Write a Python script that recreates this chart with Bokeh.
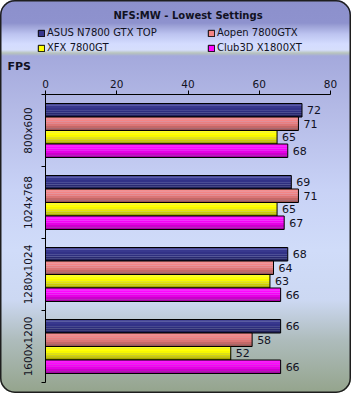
from bokeh.plotting import figure
from bokeh.models import (Range1d, FixedTicker, Label, Legend, LegendItem,
                          ColumnDataSource)
from bokeh.embed import file_html
from bokeh.resources import INLINE
from bokeh.core.properties import value

# ---------------- data ----------------
title_text = "NFS:MW - Lowest Settings"
axis_title = "FPS"
resolutions = ["800x600", "1024x768", "1280x1024", "1600x1200"]
series_names = ["ASUS N7800 GTX TOP", "Aopen 7800GTX", "XFX 7800GT", "Club3D X1800XT"]
asus = [72, 69, 68, 66]
aopen = [71, 71, 64, 58]
xfx = [65, 65, 63, 52]
club3d = [68, 67, 66, 66]
x_ticks = [0, 20, 40, 60, 80]
series_values = [asus, aopen, xfx, club3d]

# ---------------- layout / style ----------------
W, H = 351, 393
AX_L, AX_R, AX_T, AX_B = 45, 330, 94, 382     # plot box in canvas pixels
X_MIN, X_MAX = 0, 80
NG = len(resolutions)
px_x = (AX_R - AX_L) / (X_MAX - X_MIN)
px_y = (AX_B - AX_T) / NG
x_lo = X_MIN - AX_L / px_x
x_hi = X_MAX + (W - AX_R) / px_x
y_top = -AX_T / px_y
y_bot = NG + (H - AX_B) / px_y

colors = ["#34348C", "#F48282", "#FFFF00", "#FF00FF"]
FONT = "DejaVu Sans"
TXT = "#111122"
BAR_H = 0.1875
GROUP_PAD = 0.125
SHADES = [1.1, 1.02, 0.97, 0.9, 0.8, 0.66]


def shade(hexcol, f):
    r, g, b = int(hexcol[1:3], 16), int(hexcol[3:5], 16), int(hexcol[5:7], 16)
    if f >= 1:
        t = f - 1
        r, g, b = [int(c + (255 - c) * t) for c in (r, g, b)]
    else:
        r, g, b = [int(c * f) for c in (r, g, b)]
    return "#%02x%02x%02x" % (r, g, b)


p = figure(width=W, height=H, output_backend="svg", toolbar_location=None,
           x_range=Range1d(x_lo, x_hi), y_range=Range1d(y_bot, y_top),
           x_axis_location="above",
           min_border_left=0, min_border_right=0,
           min_border_top=0, min_border_bottom=0)
p.background_fill_color = None
p.border_fill_color = None
p.outline_line_color = None
p.grid.visible = False
p.styles = {
    "background": ("linear-gradient(to bottom, #8C90CC 0px, #8E92CE 23px, "
                   "#9CA1D6 26px, #BCC3F0 34px, #D4DCFF 44px, #D6DEFC 50px, "
                   "#B8C4BC 53px, #A4A9DC 56px, #B4BAE6 110px, #C8D2F6 190px, "
                   "#D0DCF9 250px, #CCD8F2 300px, #AEBCBC 340px, #94A48C 393px)"),
    "border-radius": "15px",
    "box-shadow": "inset 0 0 0 1.5px #1e1e1e",
}

# top axis (drawn at the top of the bar area)
xax = p.xaxis[0]
xax.fixed_location = 0
xax.bounds = (X_MIN, X_MAX)
xax.ticker = FixedTicker(ticks=x_ticks)
xax.major_tick_out = 4
xax.major_tick_in = 0
xax.minor_tick_line_color = None
xax.axis_line_color = "#000000"
xax.major_tick_line_color = "#000000"
xax.major_label_standoff = 3
xax.major_label_text_font = FONT
xax.major_label_text_font_size = "10.5px"
xax.major_label_text_color = TXT

# left axis
yax = p.yaxis[0]
yax.fixed_location = X_MIN
yax.bounds = (0, NG)
yax.ticker = FixedTicker(ticks=[i + 0.5 for i in range(NG)],
                         minor_ticks=list(range(NG + 1)))
yax.major_label_overrides = {i + 0.5: r for i, r in enumerate(resolutions)}
yax.major_label_orientation = "vertical"
yax.major_tick_out = 0
yax.major_tick_in = 0
yax.minor_tick_out = 4
yax.minor_tick_in = 0
yax.minor_tick_line_color = "#000000"
yax.axis_line_color = "#000000"
yax.major_label_standoff = 8
yax.major_label_text_font = FONT
yax.major_label_text_font_size = "10.5px"
yax.major_label_text_color = TXT

legend_items = []
for j, (name, vals, col) in enumerate(zip(series_names, series_values, colors)):
    yc = [i + GROUP_PAD + BAR_H * (j + 0.5) for i in range(NG)]
    n = len(SHADES)
    sh = BAR_H / n
    fill_r = None
    for k, f in enumerate(SHADES):
        ys = [y - BAR_H / 2 + sh * (k + 0.5) for y in yc]
        r = p.hbar(y=ys, right=vals, left=0, height=sh * 1.08,
                   fill_color=shade(col, f), line_color=None)
        if k == 1:
            fill_r = r
    src = ColumnDataSource(dict(y=yc, v=vals, t=[str(v) for v in vals]))
    out_r = p.hbar(y="y", right="v", left=0, height=BAR_H, source=src,
                   fill_color=None, line_color="#000000", line_width=1)
    p.text(x="v", y="y", text="t", source=src, x_offset=5,
           text_baseline="middle", text_align="left",
           text_font=value(FONT), text_font_size="11px", text_color=TXT)
    legend_items.append(LegendItem(label=name, renderers=[fill_r, out_r]))


def make_legend(items, x, y):
    return Legend(items=items, location=(x, y), orientation="vertical",
                  glyph_width=8, glyph_height=8, label_height=15, spacing=0,
                  padding=0, margin=0, label_standoff=2,
                  border_line_color=None, background_fill_alpha=0,
                  label_text_font=FONT, label_text_font_size="10px",
                  label_text_color=TXT)


p.add_layout(make_legend([legend_items[0], legend_items[2]], 37, H - 55))
p.add_layout(make_legend([legend_items[1], legend_items[3]], 207, H - 55))

p.add_layout(Label(x=(AX_L + AX_R) / 2, y=H - 15, x_units="screen", y_units="screen",
                   text=title_text, text_align="center", text_baseline="middle",
                   text_font=FONT, text_font_size="10px",
                   text_font_style="bold", text_color=TXT))
p.add_layout(Label(x=7, y=H - 66, x_units="screen", y_units="screen",
                   text=axis_title, text_align="left", text_baseline="middle",
                   text_font=FONT, text_font_size="11px",
                   text_font_style="bold", text_color=TXT))

open("out.html", "w").write(file_html(p, INLINE))
